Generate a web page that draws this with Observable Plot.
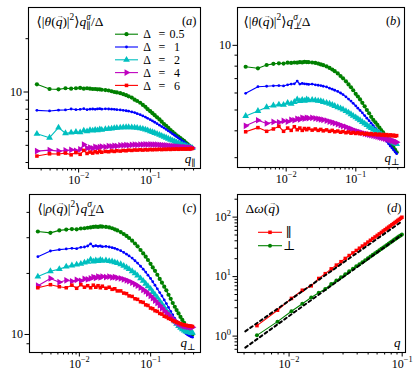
<!DOCTYPE html>
<html><head><meta charset="utf-8">
<script src="https://cdn.jsdelivr.net/npm/d3@7"></script>
<script src="https://cdn.jsdelivr.net/npm/@observablehq/plot@0.6"></script>
<style>
body{margin:0;background:#fff}
#fig{position:relative;width:415px;height:372px;overflow:hidden;background:#fff}
#fig svg{position:absolute;overflow:visible}
</style></head><body><div id="fig"></div>
<script>
// ---------- data ----------
const qs = [0.00262,0.00393,0.00524,0.00655,0.00786,0.00917,0.0105,0.0118,0.0131,0.0144,0.0157,0.0170,0.0183,0.0197,0.0210,0.0236,0.0262,0.0288,0.0314,0.0341,0.0380,0.0419,0.0459,0.0498,0.0550,0.0603,0.0655,0.0721,0.0786,0.0852,0.0917,0.0996,0.107,0.115,0.124,0.134,0.144,0.155,0.166,0.178,0.191,0.204,0.218,0.231,0.246,0.262,0.278,0.295,0.312,0.330,0.348,0.367,0.386];

const aD05 = [11.05,10.4,10.35,10.5,10.45,10.5,10.55,10.45,10.5,10.45,10.4,10.4,10.35,10.35,10.3,10.25,10.2,10.1,10.0,9.95,9.85,9.72,9.6,9.45,9.3,9.05,8.9,8.7,8.45,8.25,8.0,7.8,7.6,7.4,7.2,7.0,6.8,6.6,6.45,6.28,6.1,5.95,5.82,5.7,5.6,5.5,5.38,5.3,5.18,5.08,4.98,4.9,4.84];
const aD1  = [7.88,7.82,7.9,7.92,8.02,7.95,7.98,8.05,7.95,8.0,8.02,7.98,8.03,8.05,8.0,8.04,8.02,8.0,7.98,7.95,7.92,7.88,7.84,7.8,7.72,7.65,7.55,7.45,7.33,7.22,7.1,6.98,6.87,6.75,6.63,6.5,6.38,6.27,6.15,6.03,5.92,5.8,5.7,5.6,5.5,5.4,5.3,5.22,5.13,5.05,4.98,4.92,4.86];
const aD2  = [5.81,5.52,6.29,5.85,5.9,5.95,5.92,6.05,6.0,6.1,6.05,6.12,6.08,6.15,6.12,6.18,6.2,6.22,6.25,6.27,6.3,6.32,6.33,6.33,6.32,6.3,6.28,6.24,6.2,6.14,6.08,6.0,5.94,5.87,5.8,5.73,5.66,5.58,5.52,5.45,5.38,5.32,5.26,5.2,5.15,5.1,5.05,5.0,4.96,4.92,4.88,4.85,4.82];
const aD4  = [4.64,4.70,4.64,4.68,4.72,4.66,4.75,5.05,4.82,4.86,4.8,4.9,4.85,4.88,4.92,4.9,4.95,4.93,4.97,4.95,4.99,5.0,5.02,5.0,5.03,5.04,5.03,5.05,5.05,5.06,5.05,5.06,5.05,5.05,5.04,5.03,5.02,5.0,4.99,4.98,4.96,4.95,4.94,4.92,4.91,4.9,4.89,4.88,4.87,4.86,4.85,4.84,4.83];
const aD6  = [4.35,4.48,4.47,4.52,4.42,4.55,4.45,4.68,4.5,4.58,4.52,4.6,4.55,4.63,4.57,4.62,4.6,4.65,4.62,4.66,4.64,4.68,4.66,4.7,4.68,4.71,4.7,4.72,4.7,4.73,4.71,4.74,4.72,4.74,4.73,4.75,4.73,4.75,4.74,4.76,4.74,4.76,4.75,4.77,4.75,4.77,4.76,4.78,4.76,4.78,4.77,4.79,4.8];

const bD05 = [7.95,7.82,8.1,8.2,8.25,8.22,8.3,8.28,8.32,8.3,8.35,8.33,8.38,8.36,8.35,8.32,8.28,8.22,8.15,8.08,7.98,7.85,7.72,7.58,7.4,7.2,7.02,6.8,6.58,6.38,6.18,5.95,5.78,5.6,5.4,5.2,5.0,4.83,4.65,4.5,4.38,4.26,4.14,4.03,3.94,3.82,3.72,3.61,3.52,3.43,3.34,3.26,3.18];
const bD1  = [5.98,6.42,6.45,6.48,6.5,6.47,6.55,6.6,6.62,6.82,6.6,6.65,6.62,6.6,6.58,6.6,6.55,6.52,6.5,6.45,6.4,6.32,6.25,6.18,6.1,6.0,5.9,5.76,5.62,5.5,5.37,5.23,5.1,4.98,4.85,4.71,4.58,4.46,4.34,4.23,4.12,4.02,3.93,3.84,3.76,3.66,3.57,3.48,3.4,3.33,3.26,3.19,3.13];
const bD2  = [4.69,4.95,5.15,5.25,5.3,5.28,5.4,5.35,5.45,5.6,5.5,5.58,5.52,5.6,5.55,5.58,5.55,5.52,5.5,5.45,5.4,5.35,5.28,5.22,5.15,5.09,5.03,4.94,4.86,4.78,4.7,4.62,4.55,4.48,4.4,4.32,4.25,4.18,4.12,4.06,4.0,3.95,3.9,3.85,3.8,3.75,3.7,3.65,3.61,3.57,3.53,3.5,3.47];
const bD4  = [4.22,4.48,4.33,4.4,4.38,4.45,4.42,4.5,4.48,4.55,4.52,4.6,4.56,4.6,4.58,4.6,4.57,4.55,4.52,4.5,4.46,4.42,4.38,4.34,4.3,4.25,4.21,4.17,4.12,4.08,4.04,4.0,3.97,3.94,3.91,3.88,3.86,3.84,3.82,3.8,3.78,3.76,3.74,3.72,3.7,3.68,3.66,3.64,3.62,3.6,3.58,3.56,3.54];
const bD6  = [3.96,4.14,3.98,4.08,4.2,3.98,4.12,4.02,4.18,4.05,4.12,4.02,4.1,4.05,4.1,4.03,4.08,4.02,4.06,4.0,4.04,3.98,4.02,3.96,3.99,3.94,3.97,3.92,3.95,3.9,3.93,3.89,3.92,3.88,3.9,3.86,3.89,3.85,3.88,3.84,3.87,3.83,3.86,3.82,3.85,3.81,3.84,3.8,3.83,3.79,3.82,3.78,3.8];

const cD05 = [32.2,31.7,32.6,32.9,33.1,33.0,33.3,33.4,33.6,33.7,33.9,34.0,33.9,34.1,34.0,33.9,33.7,33.4,33.0,32.6,32.0,31.3,30.6,29.9,29.0,28.1,27.2,26.1,25.1,24.2,23.3,22.3,21.4,20.6,19.7,18.8,18.0,17.2,16.5,15.7,15.0,14.3,13.7,13.2,12.7,12.2,11.8,11.4,11.0,10.7,10.4,10.2,10.0];
const cD1  = [24.2,25.8,26.2,26.4,26.6,26.5,26.9,27.0,27.3,28.0,27.2,27.4,27.2,27.3,27.1,27.2,27.0,26.8,26.6,26.3,25.9,25.4,24.9,24.4,23.8,23.1,22.5,21.7,21.0,20.3,19.6,18.9,18.2,17.5,16.8,16.1,15.5,14.8,14.2,13.6,13.0,12.5,12.0,11.6,11.2,10.9,10.6,10.3,10.1,9.95,9.85,9.75,9.7];
const cD2  = [19.3,20.5,21.0,21.6,21.9,22.1,22.3,22.6,22.8,23.4,22.9,23.2,23.0,23.3,23.1,23.2,23.0,22.9,22.7,22.5,22.2,21.8,21.4,21.0,20.5,20.0,19.5,18.9,18.4,17.8,17.3,16.8,16.2,15.7,15.2,14.6,14.1,13.6,13.1,12.7,12.3,11.9,11.6,11.3,11.0,10.8,10.6,10.45,10.35,10.3,10.25,10.2,10.2];
const cD4  = [17.4,18.9,18.1,18.5,18.3,18.6,18.4,18.8,18.7,18.9,19.2,19.0,19.3,19.1,19.3,19.2,19.3,19.1,19.2,19.0,18.9,18.7,18.5,18.3,18.0,17.7,17.4,17.0,16.6,16.3,15.9,15.5,15.1,14.7,14.3,13.9,13.5,13.1,12.8,12.5,12.2,11.9,11.7,11.5,11.3,11.2,11.1,11.0,10.95,10.9,10.9,10.85,10.85];
const cD6  = [17.0,17.6,17.2,17.0,17.5,16.9,17.6,17.1,17.4,17.0,17.5,17.1,17.4,17.0,17.3,16.9,17.1,16.7,16.8,16.4,16.4,16.0,15.9,15.5,15.4,15.0,14.9,14.5,14.4,14.0,13.9,13.5,13.4,13.1,13.0,12.7,12.6,12.3,12.2,12.0,11.9,11.7,11.6,11.5,11.4,11.3,11.2,11.15,11.1,11.05,11.0,11.0,10.95];

const dq    = [0.0052,0.0079,0.0105,0.0131,0.0157,0.0183,0.0209,0.0236,0.0262,0.0288,0.0314,0.034,0.0367,0.0393,0.0419,0.0445,0.0471,0.0498,0.0524,0.055,0.0576,0.0602,0.0628,0.0655,0.0681,0.0707,0.0733,0.0759,0.0785,0.0812,0.0838,0.0864,0.089,0.0916,0.0942,0.0969,0.0995];
const dPar  = [1.50,2.72,4.3,5.9,7.0,9.3,11.2,13.5,15.6,17.8,20.2,22.6,25.0,27.5,30.0,32.6,35.2,38.0,40.8,43.6,46.4,49.3,52.2,55.3,58.4,61.5,64.7,67.8,71.0,74.4,77.7,81.0,84.5,88.0,91.5,95.2,99.5];
const dPerp = [1.03,1.75,2.61,3.50,4.45,5.35,6.2,7.5,8.6,9.8,11.0,12.3,13.6,14.9,16.2,17.5,18.9,20.4,21.8,23.2,24.7,26.2,27.7,29.3,30.9,32.5,34.1,35.7,37.4,39.1,40.8,42.5,44.1,45.9,47.6,49.3,51.2];
const dashX    = [0.0041, 0.098];
const dashPar  = [1.2, 83];
const dashPerp = [0.64, 49.5];

const deltaLabels = ["0.5","1","2","4","6"];
const dLegendLabels = ["∥","⊥"];

const xMajor = [0.01, 0.1];
const xMajorLabels = ["10^{−2}", "10^{−1}"];
const xMinorABC = [0.003,0.004,0.005,0.006,0.007,0.008,0.009,0.02,0.03,0.04,0.05,0.06,0.07,0.08,0.09,0.2,0.3,0.4];
const xMinorD = [0.004,0.005,0.006,0.007,0.008,0.009,0.02,0.03,0.04,0.05,0.06,0.07,0.08,0.09];
const yMajorABC = [10];
const yMajorABCLabels = ["10"];
const yMinorA = [4,5,6,7,8,9,20];
const yMinorB = [3,4,5,6,7,8,9];
const yMinorC = [9,20,30,40];
const yMajorD = [1, 10, 100];
const yMajorDLabels = ["10^{0}","10^{1}","10^{2}"];
const yMinorD = [0.6,0.7,0.8,0.9,2,3,4,5,6,7,8,9,20,30,40,50,60,70,80,90,200];

const titleA = "⟨|$θ$($q\u20D7$)|^{2}⟩$q$_{∥}^{$σ$}/Δ";
const titleB = "⟨|$θ$($q\u20D7$)|^{2}⟩$q$_{⊥}^{$σ$}/Δ";
const titleC = "⟨|$ρ$($q\u20D7$)|^{2}⟩$q$_{⊥}^{$σ$}/Δ";
const titleD = "Δ$ω$($q\u20D7$)";
const panelLabels = ["($a$)","($b$)","($c$)","($d$)"];
const qLabels = ["$q$_{∥}","$q$_{⊥}","$q$_{⊥}","$q$"];

// ---------- style ----------
const FONT = "'Liberation Serif','DejaVu Serif',serif";
const colors = ["#008000","#0000ff","#00bfbf","#bf00bf","#ff0000"];
const triRight = {draw(ctx, size){ const y = -Math.sqrt(size/(Math.sqrt(3)*3)); ctx.moveTo(-2*y,0); ctx.lineTo(y, Math.sqrt(3)*y); ctx.lineTo(y, -Math.sqrt(3)*y); ctx.closePath(); }};
const symbols = ["circle","circle","triangle",triRight,"square"];
const d3Symbols = [d3.symbolCircle, d3.symbolCircle, d3.symbolTriangle, triRight, d3.symbolSquare];
const radii = [2.1, 1.4, 2.5, 2.5, 2.0];

function rich(el){
  const s = el.textContent;
  if (!/[\^_]\{|\$|\u20D7/.test(s)) return;
  const fs = parseFloat(getComputedStyle(el).fontSize) || 12;
  const segs=[]; let it=false, sh=0, cur=null;
  for (let i=0;i<s.length;i++){
    const c=s[i];
    if (c==="$"){ it=!it; continue; }
    if (c==="\u20D7"){ segs.push({t:"→", it:false, sh:0, vec:true}); cur=null; continue; }
    if ((c==="^"||c==="_") && s[i+1]==="{"){ sh = c==="^"?1:-1; i++; cur=null; continue; }
    if (c==="}" && sh!==0){ sh=0; cur=null; continue; }
    if (!cur || cur.it!==it || cur.sh!==sh){ cur={t:"",it,sh}; segs.push(cur); }
    cur.t+=c;
  }
  while (el.firstChild) el.removeChild(el.firstChild);
  let off=0;
  segs.forEach(g=>{
    const t=document.createElementNS("http://www.w3.org/2000/svg","tspan");
    const target = g.vec ? -0.58*fs : g.sh===1 ? -0.42*fs : g.sh===-1 ? 0.25*fs : 0;
    if (target!==off) t.setAttribute("dy",(target-off).toFixed(2));
    off=target;
    if (g.vec) t.setAttribute("font-size",(0.55*fs).toFixed(1));
    else if (g.sh!==0) t.setAttribute("font-size",(0.7*fs).toFixed(1));
    if (g.it) t.setAttribute("font-style","italic");
    t.textContent=g.t; el.appendChild(t); g.node=t;
  });
  for (let i=1;i<segs.length;i++){
    if (segs[i].sh===1 && segs[i-1].sh===-1){
      segs[i].node.setAttribute("dx",(-segs[i-1].node.getComputedTextLength()).toFixed(2));
    }
    if (segs[i].vec){
      const pw = segs[i-1].node.getComputedTextLength();
      const aw = segs[i].node.getComputedTextLength();
      const shift = 0.08*fs;
      segs[i].node.setAttribute("dx",(-(pw+aw)/2 + shift).toFixed(2));
      if (segs[i+1]) segs[i+1].node.setAttribute("dx",((pw-aw)/2 - shift).toFixed(2));
    }
  }
}

function seriesMarks(xs, arrays){
  const m=[];
  arrays.forEach((arr,i)=>{
    const rows = xs.map((q,j)=>({q, v:arr[j]}));
    m.push(Plot.line(rows,{x:"q",y:"v",stroke:colors[i],strokeWidth:1.1}));
    m.push(Plot.dot(rows,{x:"q",y:"v",fill:colors[i],stroke:"none",r:radii[i],symbol:symbols[i]}));
  });
  return m;
}

function panel(o){
  const svg = Plot.plot({
    width:o.width, height:o.height,
    marginLeft:o.ml, marginRight:o.mr, marginTop:o.mt, marginBottom:o.mb,
    style:{fontFamily:FONT, fontSize:"12px", background:"transparent", overflow:"visible", color:"black"},
    x:{type:"log", domain:o.xDomain},
    y:{type:"log", domain:o.yDomain},
    marks:[
      ...o.marks,
      Plot.frame({stroke:"black", strokeWidth:1.1}),
      Plot.axisX(o.xMinor,{anchor:"bottom", tickSize:2.5, tickFormat:()=>"", label:null}),
      Plot.axisX(xMajor,{anchor:"bottom", tickSize:4.5, tickPadding:2, tickFormat:d=>xMajorLabels[xMajor.indexOf(d)], label:null, fontSize:12}),
      Plot.axisY(o.yMinor,{anchor:"left", tickSize:2.5, tickFormat:()=>"", label:null}),
      Plot.axisY(o.yMajor,{anchor:"left", tickSize:4.5, tickPadding:2, tickFormat:d=>o.yMajorLabels[o.yMajor.indexOf(d)], label:null, fontSize:12}),
      Plot.text([o.title],{text:d=>d, frameAnchor:"top-left", textAnchor:"start", lineAnchor:"middle", dx:o.tdx, dy:14, fontSize:13.5}),
      Plot.text([o.plabel],{text:d=>d, frameAnchor:"top-right", textAnchor:"end", lineAnchor:"middle", dx:-4, dy:13.5, fontSize:12.5}),
      Plot.text([o.qlabel],{text:d=>d, frameAnchor:"bottom-right", textAnchor:"end", lineAnchor:"middle", dx:-5, dy:-10, fontSize:13})
    ]
  });
  svg.style.left=o.left+"px"; svg.style.top=o.top+"px";
  document.getElementById("fig").appendChild(svg);
  svg.querySelectorAll("text").forEach(rich);
  return svg;
}

const svgA = panel({left:0, top:0, width:207, height:190, ml:28, mr:7, mt:7, mb:22,
  xDomain:[0.002,0.5], yDomain:[3.7,30], xMinor:xMinorABC, yMajor:yMajorABC, yMajorLabels:yMajorABCLabels, yMinor:yMinorA,
  marks:seriesMarks(qs,[aD05,aD1,aD2,aD4,aD6]), title:titleA, plabel:panelLabels[0], qlabel:qLabels[0], tdx:8});
const svgB = panel({left:207, top:0, width:208, height:190, ml:30, mr:11, mt:7, mb:23,
  xDomain:[0.002,0.5], yDomain:[2.7,15], xMinor:xMinorABC, yMajor:yMajorABC, yMajorLabels:yMajorABCLabels, yMinor:yMinorB,
  marks:seriesMarks(qs,[bD05,bD1,bD2,bD4,bD6]), title:titleB, plabel:panelLabels[1], qlabel:qLabels[1], tdx:6});
const svgC = panel({left:0, top:186, width:207, height:186, ml:29, mr:7, mt:8, mb:20,
  xDomain:[0.002,0.5], yDomain:[8.15,49], xMinor:xMinorABC, yMajor:yMajorABC, yMajorLabels:yMajorABCLabels, yMinor:yMinorC,
  marks:seriesMarks(qs,[cD05,cD1,cD2,cD4,cD6]), title:titleC, plabel:panelLabels[2], qlabel:qLabels[2], tdx:8});

const dashRowsPar = dashX.map((q,j)=>({q, v:dashPar[j]}));
const dashRowsPerp = dashX.map((q,j)=>({q, v:dashPerp[j]}));
const parRows = dq.map((q,j)=>({q, v:dPar[j]}));
const perpRows = dq.map((q,j)=>({q, v:dPerp[j]}));
const svgD = panel({left:207, top:186, width:208, height:186, ml:30, mr:10, mt:8, mb:20,
  xDomain:[0.0035,0.107], yDomain:[0.53,240], xMinor:xMinorD, yMajor:yMajorD, yMajorLabels:yMajorDLabels, yMinor:yMinorD,
  marks:[
    Plot.line(parRows,{x:"q",y:"v",stroke:colors[4],strokeWidth:1.1}),
    Plot.dot(parRows,{x:"q",y:"v",fill:colors[4],stroke:"none",r:2.0,symbol:"square"}),
    Plot.line(perpRows,{x:"q",y:"v",stroke:colors[0],strokeWidth:1.1}),
    Plot.dot(perpRows,{x:"q",y:"v",fill:colors[0],stroke:"none",r:2.0,symbol:"circle"}),
    Plot.line(dashRowsPar,{x:"q",y:"v",stroke:"black",strokeWidth:2,strokeDasharray:"3,3"}),
    Plot.line(dashRowsPerp,{x:"q",y:"v",stroke:"black",strokeWidth:2,strokeDasharray:"3,3"})
  ], title:titleD, plabel:panelLabels[3], qlabel:qLabels[3], tdx:8});

// ---------- legends ----------
(function(){
  const g = d3.select(svgA).append("g").attr("font-family",FONT).attr("font-size",12);
  deltaLabels.forEach((lab,i)=>{
    const y = 34.2 + i*12.8;
    g.append("line").attr("x1",115).attr("x2",138).attr("y1",y).attr("y2",y).attr("stroke",colors[i]).attr("stroke-width",1.1);
    g.append("path").attr("transform",`translate(126.5,${y})`).attr("d",d3.symbol(d3Symbols[i], Math.PI*radii[i]*radii[i])()).attr("fill",colors[i]);
    g.append("text").attr("x",147).attr("y",y).attr("dy","0.35em").text("Δ");
    g.append("text").attr("x",162).attr("y",y).attr("dy","0.35em").text("=");
    g.append("text").attr("x",177).attr("y",y).attr("dy","0.35em").text(lab);
  });
  const h = d3.select(svgD).append("g").attr("font-family",FONT).attr("font-size",13);
  [[colors[4], d3.symbolSquare],[colors[0], d3.symbolCircle]].forEach(([c,sym],i)=>{
    const y = 46.3 + i*13.4;
    h.append("line").attr("x1",51).attr("x2",75).attr("y1",y).attr("y2",y).attr("stroke",c).attr("stroke-width",1.1);
    h.append("path").attr("transform",`translate(63,${y})`).attr("d",d3.symbol(sym, Math.PI*4)()).attr("fill",c);
    h.append("text").attr("x",82).attr("y",y).attr("dy","0.35em").text(dLegendLabels[i]);
  });
})();
</script></body></html>
